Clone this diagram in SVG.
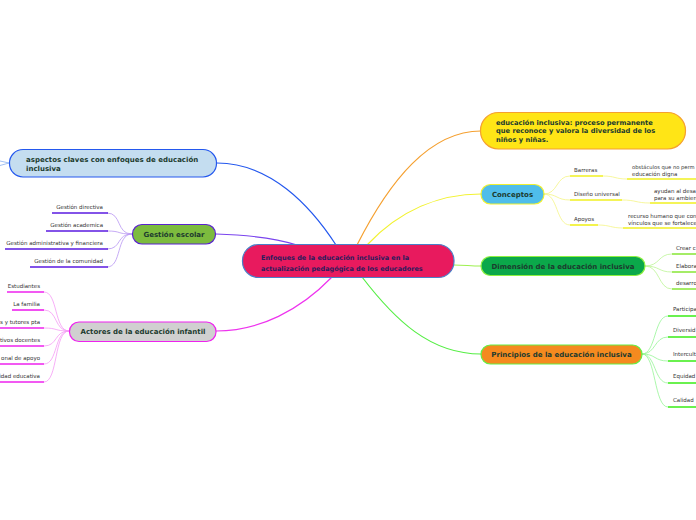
<svg xmlns="http://www.w3.org/2000/svg" width="696" height="520" viewBox="0 0 696 520">
<style>
.t{font-family:"DejaVu Sans",Verdana,sans-serif;font-size:7px;font-weight:bold;fill:#1c3b2e}
.c{font-family:"DejaVu Sans",Verdana,sans-serif;font-size:5.5px;fill:#333}
.m{fill:none;stroke-width:1.2}
.u{fill:none;stroke-width:1.6}
.s{fill:none;stroke-width:0.8}
</style>
<rect width="696" height="520" fill="#fff"/>
<g id="connectors">
<path class="m" stroke="#2458ee" d="M217,163 C270,163 310,205 336,245"/>
<path class="m" stroke="#7a44ee" d="M216,234 C250,235 275,238 297,245"/>
<path class="m" stroke="#ee33ee" d="M332,277 C300,310 260,331 216,331"/>
<path class="m" stroke="#f5a030" d="M357,245 C390,180 430,131 481,131"/>
<path class="m" stroke="#f2f230" d="M367,245 C400,210 440,194 481,194"/>
<path class="m" stroke="#9ef050" d="M454,265 C465,265 470,266 481,266"/>
<path class="m" stroke="#55ee44" d="M362,277 C395,320 430,354 481,354"/>
<path class="s" stroke="#8ab0f0" d="M0,161 L9,163 M0,165.5 L9,163"/>
<g stroke="#b895f2" class="s">
<path d="M132,234 C116,234 122,213 107,213"/>
<path d="M132,234 C116,234 122,231 107,231"/>
<path d="M132,234 C116,234 122,249 107,249"/>
<path d="M132,234 C116,234 122,267 107,267"/>
</g>
<g stroke="#5a1ae0" class="u">
<path d="M52,213 H108"/>
<path d="M46,231 H108"/>
<path d="M5,249 H108"/>
<path d="M30,267 H108"/>
</g>
<g stroke="#f59af5" class="s">
<path d="M69,331 C54,331 58,292 44,292"/>
<path d="M69,331 C54,331 58,310 44,310"/>
<path d="M69,331 C54,331 58,328 44,328"/>
<path d="M69,331 C54,331 58,346 44,346"/>
<path d="M69,331 C54,331 58,364 44,364"/>
<path d="M69,331 C54,331 58,382 44,382"/>
</g>
<g stroke="#ee22ee" class="u">
<path d="M7,292 H44"/>
<path d="M12,310 H44"/>
<path d="M0,328 H44"/>
<path d="M0,346 H44"/>
<path d="M0,364 H44"/>
<path d="M0,382 H44"/>
</g>
<g stroke="#f5f585" class="s">
<path d="M544,194 C558,194 556,176 570,176"/>
<path d="M544,194 C558,194 556,200 570,200"/>
<path d="M544,194 C558,194 556,225 570,225"/>
<path d="M603,176 C615,176 615,179 627,179"/>
<path d="M622,200 C636,200 636,203 650,203"/>
<path d="M598,225 C610,225 611,228 623,228"/>
</g>
<g stroke="#f0f020" class="u">
<path d="M570,176 H603"/>
<path d="M570,200 H622"/>
<path d="M570,225 H598"/>
<path d="M627,179 H696"/>
<path d="M650,203 H696"/>
<path d="M623,228 H696"/>
</g>
<g stroke="#bdf595" class="s">
<path d="M645,266 C660,266 658,254 672,254"/>
<path d="M645,266 C660,266 658,272 672,272"/>
<path d="M645,266 C660,266 658,289 672,289"/>
</g>
<g stroke="#8ee840" class="u">
<path d="M672,254 H696"/>
<path d="M672,272 H696"/>
<path d="M672,289 H696"/>
</g>
<g stroke="#95f595" class="s">
<path d="M642,354 C656,354 654,316 668,316"/>
<path d="M642,354 C656,354 654,337 668,337"/>
<path d="M642,354 C656,354 654,361 668,361"/>
<path d="M642,354 C656,354 654,383 668,383"/>
<path d="M642,354 C656,354 654,407 668,407"/>
</g>
<g stroke="#44ee22" class="u">
<path d="M668,316 H696"/>
<path d="M668,337 H696"/>
<path d="M668,361 H696"/>
<path d="M668,383 H696"/>
<path d="M668,407 H696"/>
</g>
</g>
<g id="central">
<rect x="242.5" y="244.5" width="211.5" height="33" rx="16" fill="#e81a5e" stroke="#4a7fc8" stroke-width="1.2"/>
<text class="t" style="fill:#2b1d5c;font-size:6.5px" x="261" y="259.5">Enfoques de la educación inclusiva en la</text>
<text class="t" style="fill:#2b1d5c;font-size:6.5px" x="261" y="270.5">actualización pedagógica de los educadores</text>
</g>
<g id="aspectos">
<rect x="9.5" y="149.5" width="207" height="27.5" rx="13.5" fill="#c4ddf0" stroke="#2458ee" stroke-width="1.2"/>
<text class="t" x="26" y="161.5">aspectos claves con enfoques de educación</text>
<text class="t" x="26" y="170.5">inclusiva</text>
</g>
<g id="gestion">
<rect x="132.5" y="224.5" width="83" height="19.5" rx="9.5" fill="#7cbb3e" stroke="#5a22d0" stroke-width="1.2"/>
<text class="t" x="174" y="236.5" text-anchor="middle">Gestión escolar</text>
<text class="c" x="103" y="209" text-anchor="end">Gestión directiva</text>
<text class="c" x="103" y="227" text-anchor="end">Gestión academica</text>
<text class="c" x="103" y="245" text-anchor="end">Gestión administrativa y financiera</text>
<text class="c" x="103" y="263" text-anchor="end">Gestión de la comunidad</text>
</g>
<g id="actores">
<rect x="69.5" y="322" width="146.5" height="19.5" rx="9.5" fill="#d0d0d0" stroke="#ee22ee" stroke-width="1.2"/>
<text class="t" x="143" y="334" text-anchor="middle">Actores de la educación infantil</text>
<text class="c" x="40" y="288" text-anchor="end">Estudiantes</text>
<text class="c" x="40" y="306" text-anchor="end">La familia</text>
<text class="c" x="40" y="324" text-anchor="end">s y tutores pta</text>
<text class="c" x="40" y="342" text-anchor="end">tivos docentes</text>
<text class="c" x="40" y="360" text-anchor="end">onal de apoyo</text>
<text class="c" x="40" y="378" text-anchor="end">idad educativa</text>
</g>
<g id="definicion">
<rect x="480.5" y="112.5" width="205" height="36.5" rx="18" fill="#ffe516" stroke="#f5a030" stroke-width="1.2"/>
<text class="t" style="font-size:6.7px" x="496" y="124.5">educación inclusiva: proceso permanente</text>
<text class="t" style="font-size:6.7px" x="496" y="133">que reconoce y valora la diversidad de los</text>
<text class="t" style="font-size:6.7px" x="496" y="141.5">niños y niñas.</text>
</g>
<g id="conceptos">
<rect x="481" y="184.5" width="63" height="19.5" rx="9.5" fill="#4fbdea" stroke="#f0f030" stroke-width="1.2"/>
<text class="t" x="512.5" y="196.5" text-anchor="middle">Conceptos</text>
<text class="c" x="574" y="172">Barreras</text>
<text class="c" x="574" y="196">Diseño universal</text>
<text class="c" x="574" y="221">Apoyos</text>
<text class="c" style="font-size:5.2px" x="632" y="169">obstáculos que no perm</text>
<text class="c" x="632" y="176">educación digna</text>
<text class="c" x="654" y="192.5">ayudan al desa</text>
<text class="c" x="654" y="200">para su ambien</text>
<text class="c" x="628" y="218">recurso humano que con</text>
<text class="c" x="628" y="225">vínculos que se fortalece</text>
</g>
<g id="dimension">
<rect x="481" y="256.5" width="164" height="19" rx="9.5" fill="#0ba84a" stroke="#8ef040" stroke-width="1.2"/>
<text class="t" x="563" y="268.5" text-anchor="middle">Dimensión de la educación inclusiva</text>
<text class="c" x="676" y="250">Crear c</text>
<text class="c" x="676" y="268">Elabora</text>
<text class="c" x="676" y="285">desarro</text>
</g>
<g id="principios">
<rect x="481" y="345" width="161" height="19" rx="9.5" fill="#f58a1f" stroke="#66ee44" stroke-width="1.2"/>
<text class="t" x="561.5" y="357" text-anchor="middle">Principios de la educación inclusiva</text>
<text class="c" x="673" y="311">Participa</text>
<text class="c" x="673" y="332">Diversid</text>
<text class="c" x="673" y="356">Intercult</text>
<text class="c" x="673" y="378">Equidad</text>
<text class="c" x="673" y="402">Calidad</text>
</g>
</svg>
